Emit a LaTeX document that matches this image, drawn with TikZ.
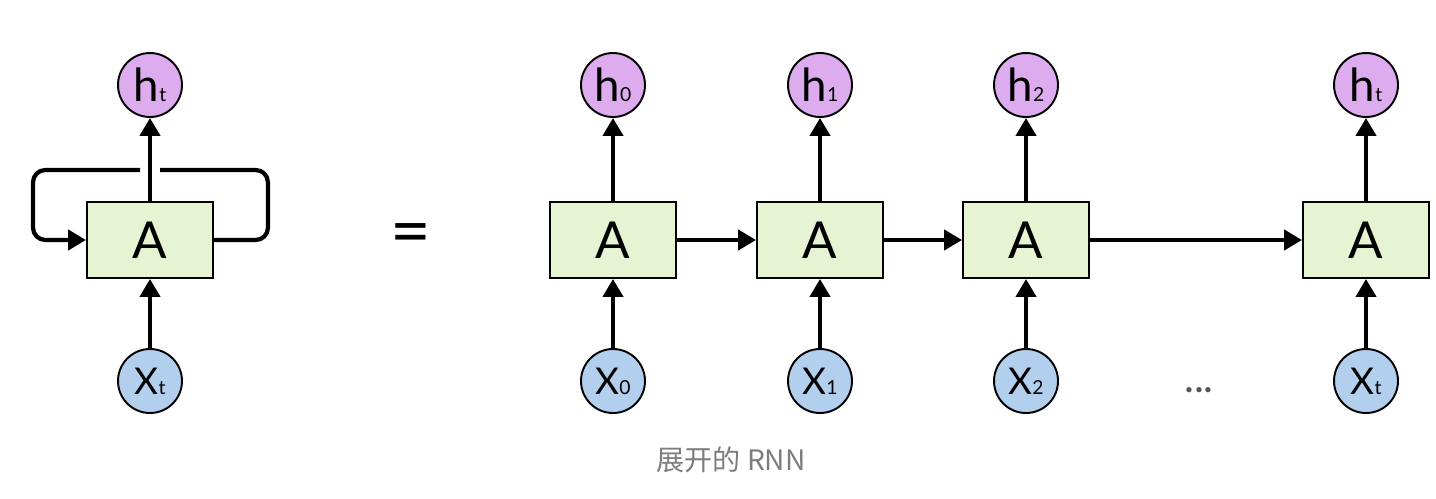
\documentclass[tikz,border=0pt]{standalone}
\usepackage{fontspec}
\setmainfont{Lato}
\newfontfamily\cjk{Noto Sans CJK SC}
\usepackage{tikz}
\usetikzlibrary{arrows.meta,positioning}

\definecolor{hfill}{RGB}{220,172,238}
\definecolor{xfill}{RGB}{178,208,238}
\definecolor{afill}{RGB}{231,244,212}
\definecolor{capgray}{RGB}{125,125,125}
\definecolor{dotgray}{RGB}{85,85,85}

\newcommand{\hsub}[2]{#1{\fontsize{11pt}{11pt}\selectfont #2}}

\begin{document}
\begin{tikzpicture}[x=0.02cm, y=-0.02cm]
			\tikzstyle{Cell}	= [rectangle, draw, line width=1.1pt, fill=afill, minimum width=2.52cm, minimum height=1.52cm, inner sep=0pt, font=\fontsize{29pt}{29pt}\selectfont]
			\tikzstyle{State}	= [circle, draw, line width=1.1pt, minimum size=1.28cm, inner sep=0pt]
			\tikzstyle{OUT}		= [State, fill=hfill, font=\fontsize{26pt}{26pt}\selectfont]
			\tikzstyle{IN}		= [State, fill=xfill, font=\fontsize{21pt}{21pt}\selectfont]
			\tikzstyle{Conn}	= [line width=2.4pt, -{Triangle[length=0.36cm, width=0.4cm]}]
			\tikzstyle{Loop}	= [line width=2.4pt, rounded corners=7pt]

			\useasboundingbox (0,0) rectangle (1436,498);

			% folded network
			\node (at) at (150,240) [Cell] {A};
			\node (ht) at (150,85) [OUT] {\hsub{h}{t}};
			\node (xt) at (150,381) [IN] {\hsub{X}{t}};
			\coordinate (lg) at (140,170);
			\coordinate (rg) at (160,170);

			\draw [Conn] (xt) to (at);
			\draw [Conn] (at) to (ht);
			\draw [Loop] (at.east) -- ++(54,0) |- (rg);
			\draw [Loop, -{Triangle[length=0.36cm, width=0.4cm]}] (lg) -| ++(-107,70) -- (at.west);

			\node (eq) at (411,240) [font=\fontsize{40pt}{40pt}\selectfont] {=};

			% unrolled network
			\node (a0) at (613,240) [Cell] {A};
			\node (a1) at (820,240) [Cell] {A};
			\node (a2) at (1026,240) [Cell] {A};
			\node (a3) at (1366,240) [Cell] {A};
			\node (h0) at (613,85) [OUT] {\hsub{h}{0}};
			\node (h1) at (820,85) [OUT] {\hsub{h}{1}};
			\node (h2) at (1026,85) [OUT] {\hsub{h}{2}};
			\node (h3) at (1366,85) [OUT] {\hsub{h}{t}};
			\node (x0) at (613,381) [IN] {\hsub{X}{0}};
			\node (x1) at (820,381) [IN] {\hsub{X}{1}};
			\node (x2) at (1026,381) [IN] {\hsub{X}{2}};
			\node (x3) at (1366,381) [IN] {\hsub{X}{t}};
			\node (dots) at (1199,390) [text=dotgray, font=\fontsize{24pt}{24pt}\selectfont] {...};

			\foreach \i in {0,1,2,3} {
				\draw [Conn] (x\i) to (a\i);
				\draw [Conn] (a\i) to (h\i);
			}
			\draw [Conn] (a0) to (a1);
			\draw [Conn] (a1) to (a2);
			\draw [Conn] (a2) to (a3);

			\node (cap) at (731,460) [text=capgray, font=\fontsize{16pt}{16pt}\selectfont] {{\cjk 展开的 RNN}};
		\end{tikzpicture}
\end{document}
